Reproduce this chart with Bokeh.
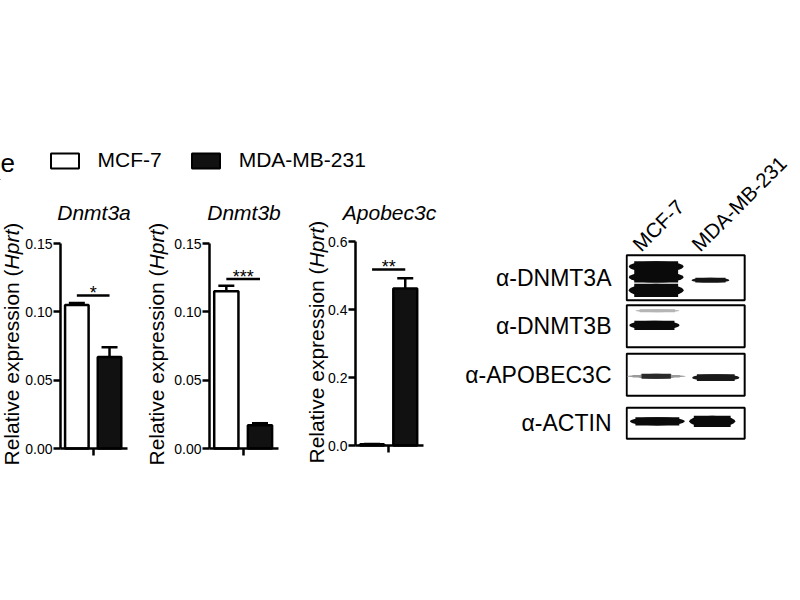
import math
from bokeh.plotting import figure
from bokeh.models import (Range1d, FixedTicker, Label, Whisker, TeeHead,
                          ColumnDataSource, Legend, LegendItem)
from bokeh.layouts import row, column
from bokeh.embed import file_html
from bokeh.resources import INLINE
from bokeh.core.properties import value

FONT = "Liberation Sans"

# ---------------- data ----------------
groups = ["MCF-7", "MDA-MB-231"]
group_fill = ["white", "#111111"]
genes = ["Dnmt3a", "Dnmt3b", "Apobec3c"]
mcf7 = [0.105, 0.115, 0.004]
mcf7_err = [0.0015, 0.004, 0.0005]
mda = [0.067, 0.017, 0.462]
mda_err = [0.007, 0.0015, 0.030]
sig_marks = ["*", "***", "**"]
sig_level = [0.112, 0.124, 0.518]
y_max = [0.15, 0.15, 0.6]
y_ticks = [[0, 0.05, 0.10, 0.15], [0, 0.05, 0.10, 0.15], [0, 0.2, 0.4, 0.6]]
y_tick_labels = [["0.00", "0.05", "0.10", "0.15"],
                 ["0.00", "0.05", "0.10", "0.15"],
                 ["0.0", "0.2", "0.4", "0.6"]]
y_label_parts = [("Relative expression (", "normal"), ("Hprt", "italic"), (")", "normal")]

# western blot: rows top -> bottom
antibodies = ["α-DNMT3A", "α-DNMT3B", "α-APOBEC3C", "α-ACTIN"]
box_heights = [0.93, 0.87, 0.87, 0.64]          # fraction of a row
# bands: antibody index, lane position, vertical shift (rows), width (lanes), thickness (rows), shade
band_ab = [0, 0, 0, 0, 1, 1, 2, 2, 2, 3, 3]
band_x = [0.50, 0.50, 0.50, 1.42, 0.47, 0.52, 0.50, 0.50, 1.51, 0.52, 1.45]
band_dy = [0.23, 0.01, -0.26, -0.05, 0.02, 0.32, -0.03, -0.03, -0.06, 0.04, 0.04]
band_w = [0.93, 0.93, 0.93, 0.64, 0.85, 0.75, 1.00, 0.62, 0.80, 0.93, 0.78]
band_h = [0.22, 0.22, 0.27, 0.10, 0.19, 0.06, 0.05, 0.10, 0.14, 0.17, 0.23]
band_col = ["#0a0a0a", "#0a0a0a", "#0a0a0a", "#151515", "#0a0a0a", "#b5b5b5",
            "#9a9a9a", "#2a2a2a", "#1a1a1a", "#0a0a0a", "#0a0a0a"]

# Arial / Liberation Sans advance widths (em) for label composition
ADV = {'R': .722, 'e': .556, 'l': .222, 'a': .556, 't': .278, 'i': .222, 'v': .5,
       'x': .5, 'p': .556, 'r': .333, 's': .5, 'o': .556, 'n': .556, ' ': .278,
       '(': .333, ')': .333, 'H': .722}


def text_width(s, size):
    return sum(ADV.get(c, .556) for c in s) * size


# ---------------- layout constants (pixels) ----------------
HEAD_H = 180
ROW_H = 300
X_LO, X_HI = -0.5, 1.55           # extent of each x axis (bar slots at 0 and 1)
# per panel: figure width, axis x, axis end x, zero y, top y (relative to figure),
# y-label centre x, y-label start above bottom
panel_layout = [
    dict(w=140, xa=60, xe=127, y0=268, yt=63, lx=11, ly=15),
    dict(w=150, xa=69, xe=138, y0=268, yt=63, lx=15.6, ly=15),
    dict(w=150, xa=65, xe=133, y0=265, yt=61, lx=25.6, ly=17),
]


def bar_panel(i):
    L = panel_layout[i]
    xs = (L["xe"] - L["xa"]) / (X_HI - X_LO)
    ys = (L["y0"] - L["yt"]) / y_max[i]
    p = figure(width=L["w"], height=ROW_H,
               x_range=Range1d(X_LO - L["xa"] / xs, X_HI + (L["w"] - L["xe"]) / xs),
               y_range=Range1d(-(ROW_H - L["y0"]) / ys, y_max[i] + L["yt"] / ys),
               output_backend="svg", toolbar_location=None, min_border=0)
    p.outline_line_color = None
    p.grid.visible = False

    src = ColumnDataSource(dict(x=[0, 1], top=[mcf7[i], mda[i]],
                                upper=[mcf7[i] + mcf7_err[i], mda[i] + mda_err[i]],
                                fill=group_fill, name=groups))
    p.vbar(x="x", top="top", width=0.72, source=src, fill_color="fill",
           line_color="black", line_width=2.5)
    p.add_layout(Whisker(base="x", lower="top", upper="upper", source=src,
                         dimension="height", line_color="black", line_width=2.5,
                         upper_head=TeeHead(size=16, line_width=2.5, line_color="black"),
                         lower_head=None))
    # significance bracket
    p.segment(x0=[0], y0=[sig_level[i]], x1=[1], y1=[sig_level[i]],
              line_color="black", line_width=2.5)
    p.text(x=[0.5], y=[sig_level[i]], text=[sig_marks[i]], text_align="center",
           text_baseline="middle", y_offset=-2, text_font=value(FONT),
           text_font_size="18px", text_color="black")

    # gene name above the panel
    p.add_layout(Label(x=(X_LO + X_HI) / 2, y=ROW_H - 32, y_units="screen",
                       text=genes[i], text_align="center", text_baseline="middle",
                       text_font=FONT, text_font_style="italic", text_font_size="21px",
                       text_color="black"))

    # axes drawn at the data origin, limited to the data extent
    ya = p.yaxis[0]
    ya.fixed_location = X_LO
    ya.bounds = (0, y_max[i])
    ya.ticker = FixedTicker(ticks=y_ticks[i])
    ya.major_label_overrides = {t: s for t, s in zip(y_ticks[i], y_tick_labels[i])}
    ya.minor_tick_line_color = None
    ya.axis_line_width = 2.5
    ya.major_tick_line_width = 2.5
    ya.major_tick_out = 7
    ya.major_tick_in = 0
    ya.major_label_standoff = 1
    ya.major_label_text_font = FONT
    ya.major_label_text_font_size = "14px"
    ya.major_label_text_color = "black"

    xa = p.xaxis[0]
    xa.fixed_location = 0
    xa.bounds = (X_LO, X_HI)
    xa.ticker = FixedTicker(ticks=[0.5])
    xa.major_label_overrides = {0.5: ""}
    xa.minor_tick_line_color = None
    xa.axis_line_width = 2.5
    xa.major_tick_line_width = 2.5
    xa.major_tick_out = 7
    xa.major_tick_in = 0

    # y label with italic gene name
    off = 0.0
    for txt, style in y_label_parts:
        p.add_layout(Label(x=L["lx"], y=L["ly"] + off, x_units="screen", y_units="screen",
                           text=txt, angle=math.pi / 2, text_align="left",
                           text_baseline="middle", text_font=FONT,
                           text_font_style=style, text_font_size="21px",
                           text_color="black"))
        off += text_width(txt, 21)
    return p


panels = [bar_panel(i) for i in range(3)]

# ---------------- header: panel letter + legend ----------------
h = figure(width=440, height=HEAD_H, x_range=Range1d(0, 1), y_range=Range1d(0, 1),
           x_axis_type=None, y_axis_type=None, toolbar_location=None,
           output_backend="svg", min_border=0)
h.outline_line_color = None
h.grid.visible = False
# legend proxy glyph (kept outside the visible range, only its legend swatches show)
proxy = ColumnDataSource(dict(x=[-5, -5], bottom=[-3, -3], top=[-2, -2], fill=group_fill))
proxy_r = h.vbar(x="x", bottom="bottom", top="top", width=0.1, source=proxy,
                 fill_color="fill", line_color="black", line_width=2)
legend = Legend(items=[LegendItem(label=g, renderers=[proxy_r], index=k)
                       for k, g in enumerate(groups)],
                orientation="horizontal", location=(46.5, 8),
                border_line_color=None, background_fill_alpha=0,
                padding=0, margin=0, spacing=26, label_standoff=16,
                glyph_width=35, glyph_height=19, label_height=20,
                label_text_font=FONT, label_text_font_size="21px",
                label_text_color="black")
h.add_layout(legend)
h.add_layout(Label(x=0, y=18, x_units="screen", y_units="screen", text="e",
                   text_font=FONT, text_font_size="26px", text_color="black",
                   text_baseline="alphabetic"))

# ---------------- western blot ----------------
n_rows = len(antibodies)
row_y = [n_rows - 0.5 - k for k in range(n_rows)]
LANE_PX, ROW_PX = 59.0, 48.5
B_LEFT, B_TOP, B_BOTTOM, B_W = 185, 100, 33, 352
b = figure(width=B_W, height=HEAD_H + ROW_H,
           x_range=Range1d(-0.02, -0.02 + (B_W - B_LEFT) / LANE_PX),
           y_range=Range1d(0, n_rows + (HEAD_H + ROW_H - B_BOTTOM - n_rows * ROW_PX - B_TOP) / ROW_PX),
           x_axis_type=None, output_backend="svg", toolbar_location=None,
           min_border_left=B_LEFT, min_border_right=0, min_border_top=B_TOP,
           min_border_bottom=B_BOTTOM)
b.outline_line_color = None
b.grid.visible = False
b.rect(x=[1] * n_rows, y=row_y, width=[2] * n_rows, height=box_heights,
       fill_color="white", line_color="black", line_width=2)
bsrc = ColumnDataSource(dict(
    x=band_x,
    y=[row_y[a] + d for a, d in zip(band_ab, band_dy)],
    w=band_w, rw=[w * 0.8 for w in band_w], h=band_h, c=band_col))
b.ellipse(x="x", y="y", width="w", height="h", source=bsrc, fill_color="c", line_color=None)
b.rect(x="x", y="y", width="rw", height="h", source=bsrc, fill_color="c", line_color=None)

# lane names, slanted, above the first box
lane_x = [k + 0.5 for k in range(len(groups))]
b.text(x=lane_x, y=[n_rows] * len(groups), text=groups, angle=math.pi / 4,
       x_offset=-12, y_offset=2, text_align="left", text_baseline="bottom",
       text_font=value(FONT), text_font_size="20.5px", text_color="black")

by = b.yaxis[0]
by.ticker = FixedTicker(ticks=row_y)
by.major_label_overrides = {y: a for y, a in zip(row_y, antibodies)}
by.axis_line_color = None
by.major_tick_line_color = None
by.minor_tick_line_color = None
by.major_label_standoff = 8
by.major_label_text_font = FONT
by.major_label_text_font_size = "23px"
by.major_label_text_color = "black"

layout = row(column(h, row(*panels)), b)
open("out.html", "w").write(file_html(layout, INLINE))
